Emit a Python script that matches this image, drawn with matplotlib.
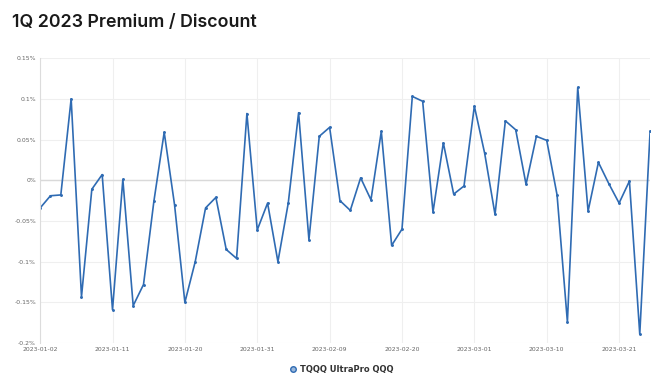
import matplotlib.pyplot as plt
import pandas as pd

# business days 2023-01-02 .. 2023-03-24
dates = pd.bdate_range("2023-01-02", periods=60)

# premium / discount in percent
premium = [
    -0.034, -0.019, -0.018, 0.100, -0.143, -0.011, 0.007, -0.159, 0.001, -0.154,
    -0.128, -0.026, 0.059, -0.030, -0.150, -0.100, -0.034, -0.021, -0.085, -0.096,
    0.082, -0.061, -0.028, -0.100, -0.028, 0.083, -0.073, 0.054, 0.065, -0.025,
    -0.037, 0.003, -0.024, 0.060, -0.080, -0.060, 0.103, 0.097, -0.039, 0.046,
    -0.017, -0.007, 0.091, 0.033, -0.042, 0.073, 0.062, -0.005, 0.054, 0.049,
    -0.018, -0.174, 0.114, -0.038, 0.022, -0.004, -0.028, -0.001, -0.189, 0.060,
]

series_name = "TQQQ UltraPro QQQ"
title = "1Q 2023 Premium / Discount"
y_ticks = [-0.2, -0.15, -0.1, -0.05, 0, 0.05, 0.1, 0.15]
tick_idx = list(range(0, 60, 7))

line_color = "#2f6bb3"

fig = plt.figure(figsize=(6.58, 3.80), dpi=100)
ax = fig.add_axes([0.061, 0.097, 0.927, 0.75])

x = list(range(len(premium)))
ax.plot(x, premium, color=line_color, lw=1.2, marker="o", ms=1.1,
        label=series_name)

ax.set_xlim(0, len(premium) - 1)
ax.set_ylim(-0.2, 0.15)
ax.set_xticks(tick_idx)
ax.set_xticklabels([dates[i].strftime("%Y-%m-%d") for i in tick_idx])
ax.set_yticks(y_ticks)
ax.set_yticklabels([f"{v:g}%" for v in y_ticks])

ax.grid(True, color="#efefef", lw=0.8)
ax.axhline(0, color="#d9d9d9", lw=1.0, zorder=1)
ax.set_axisbelow(True)
for side in ["top", "right", "bottom"]:
    ax.spines[side].set_visible(False)
ax.spines["left"].set_color("#dcdcdc")
ax.tick_params(length=0, labelsize=4.4, labelcolor="#666666", pad=3)

fig.text(0.018, 0.93, title, fontsize=12.8, fontweight="semibold",
         family="Inter", color="#1a1a1a")

leg = fig.legend(loc="lower center", bbox_to_anchor=(0.52, -0.005), frameon=False,
                 prop={"size": 6.0, "weight": "bold"}, handlelength=0.6,
                 handletextpad=0.5)
for h in leg.legend_handles:
    h.set_linestyle("none")
    h.set_marker("o")
    h.set_markersize(4)
    h.set_markerfacecolor("#9ab8dc")
    h.set_markeredgecolor(line_color)
for t in leg.get_texts():
    t.set_color("#333333")

fig.savefig("out.png", dpi=100)
